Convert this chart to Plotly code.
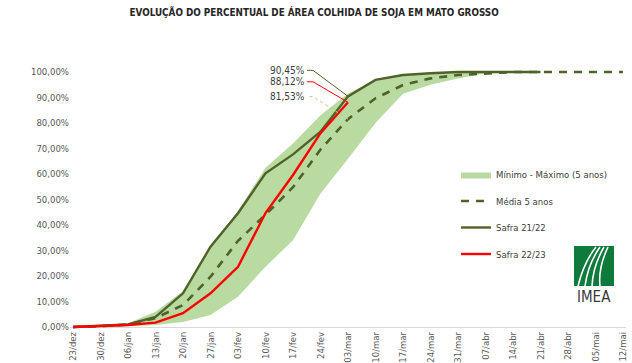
import plotly.graph_objects as go

categories = ["23/dez", "30/dez", "06/jan", "13/jan", "20/jan", "27/jan", "03/fev", "10/fev",
              "17/fev", "24/fev", "03/mar", "10/mar", "17/mar", "24/mar", "31/mar", "07/abr",
              "14/abr", "21/abr", "28/abr", "05/mai", "12/mai"]
y_ticks = [0, 10, 20, 30, 40, 50, 60, 70, 80, 90, 100]
y_tick_labels = ["0,00%", "10,00%", "20,00%", "30,00%", "40,00%", "50,00%", "60,00%",
                 "70,00%", "80,00%", "90,00%", "100,00%"]

band_max = [0, 0.5, 1.5, 6, 14, 32, 45.5, 62.5, 72, 83, 91.6, 97, 99, 99.8, 100, 100, 100, 100]
band_min = [0, 0, 0.3, 0.8, 2, 4.7, 11.9, 23.6, 34, 52.4, 66, 80, 91.5, 95, 97.5, 99.5, 100, 100]
media_5 = [0, 0.3, 1, 3.5, 8.6, 19.7, 33.8, 44, 54.8, 69.6, 81.53, 89.7, 94.9, 97.5, 98.8, 99.5,
           100, 100, 100, 100, 100]
safra_2122 = [0, 0.5, 1, 4, 13.2, 31.5, 44.6, 60.3, 67.7, 76.6, 90.45, 96.9, 98.8, 99.5, 100, 100,
              100, 100]
safra_2223 = [0, 0.3, 0.8, 1.7, 5.4, 13.2, 23.6, 44.7, 59.6, 76, 88.12]

W, H = 632, 363
L, R, T, B = 70, 6, 60, 34
PW, PH = W - L - R, H - T - B


def paper(px, py):
    return (px - L) / PW, (H - B - py) / PH


DARK = "#4f6228"
RED = "#ff0000"
BAND = "#b9dba1"
TXT = "#404040"
FONT = "DejaVu Sans Condensed, Liberation Sans, sans-serif"

x_all = list(range(len(categories)))

fig = go.Figure()
fig.add_trace(go.Scatter(x=x_all[:len(band_min)], y=band_min, mode="lines",
                         line=dict(width=0, color=BAND), showlegend=False,
                         legendgroup="a", hoverinfo="skip"))
fig.add_trace(go.Scatter(x=x_all[:len(band_max)], y=band_max, mode="lines",
                         line=dict(width=0, color=BAND), fill="tonexty", fillcolor=BAND,
                         name="Mínimo - Máximo (5 anos)", legendgroup="a"))
fig.add_trace(go.Scatter(x=x_all[:len(media_5)], y=media_5, mode="lines",
                         line=dict(color=DARK, width=2.6, dash="8px,7px"),
                         name="Média 5 anos", legendgroup="b"))
fig.add_trace(go.Scatter(x=x_all[:len(safra_2122)], y=safra_2122, mode="lines",
                         line=dict(color=DARK, width=2.4),
                         name="Safra 21/22", legendgroup="c"))
fig.add_trace(go.Scatter(x=x_all[:len(safra_2223)], y=safra_2223, mode="lines",
                         line=dict(color=RED, width=2.4),
                         name="Safra 22/23", legendgroup="d"))

# data labels with leader lines at last point of current season
last = len(safra_2223) - 1
labels = [
    (safra_2122[last], DARK, "solid", 26),
    (safra_2223[last], RED, "solid", 20.5),
    (media_5[last], "#a9d18e", "dot", 22.5),
]
annotations = []
shapes = []
for val, col, dash, up in labels:
    txt = f"{val:.2f}%".replace(".", ",")
    annotations.append(dict(x=last, y=val, xref="x", yref="y", text=txt, showarrow=False,
                            xanchor="right", yanchor="middle", xshift=-41, yshift=up,
                            font=dict(family=FONT, size=10, color=TXT)))
    shapes.append(dict(type="path", xref="x", yref="y", xsizemode="pixel", ysizemode="pixel",
                       xanchor=last, yanchor=val,
                       path=f"M 0,0 L -35,{up} L -41,{up}",
                       line=dict(color=col, width=1, dash=dash)))

# IMEA logo
x0, y0 = paper(574, 286)
x1, y1 = paper(614, 246)
shapes.append(dict(type="rect", xref="paper", yref="paper", x0=x0, y0=y0, x1=x1, y1=y1,
                   fillcolor="#0e7a3c", line=dict(width=0), layer="above"))
curves = [((596, 247), (584, 262), (578, 286)),
          ((600, 247), (588, 264), (585, 286)),
          ((604, 247), (593, 266), (592, 286)),
          ((608, 247), (598, 268), (600, 286))]
for (a, b, c) in curves:
    pa, pb, pc = paper(*a), paper(*b), paper(*c)
    shapes.append(dict(type="path", xref="paper", yref="paper", layer="above",
                       path=f"M {pa[0]},{pa[1]} Q {pb[0]},{pb[1]} {pc[0]},{pc[1]}",
                       line=dict(color="white", width=1.6)))
lx, ly = paper(594, 297)
annotations.append(dict(x=lx, y=ly, xref="paper", yref="paper", text="IMEA", showarrow=False,
                        xanchor="center", yanchor="middle",
                        font=dict(family="DejaVu Sans Condensed, sans-serif", size=15, color="#3a3a3a")))

fig.update_layout(
    width=W, height=H,
    margin=dict(l=L, r=R, t=T, b=B),
    paper_bgcolor="white", plot_bgcolor="white",
    title=dict(text="<b>EVOLUÇÃO DO PERCENTUAL DE ÁREA COLHIDA DE SOJA EM MATO GROSSO</b>",
               x=0.497, xanchor="center", y=1 - 13 / H, yanchor="middle",
               font=dict(family=FONT, size=9.8, color="#262626")),
    xaxis=dict(range=[-3 / 27.5, 20 + 3 / 27.5],
               tickmode="array", tickvals=x_all, ticktext=categories, tickangle=-90,
               showgrid=False, zeroline=False, showline=False, ticks="",
               tickfont=dict(family=FONT, size=9.5, color="#595959"), automargin=False),
    yaxis=dict(range=[-2 / 2.55, (H - B - T - 2) / 2.55], tickmode="array",
               tickvals=y_ticks, ticktext=y_tick_labels, showgrid=False,
               zeroline=True, zerolinecolor="#d9d9d9", zerolinewidth=1, showline=False,
               tickfont=dict(family=FONT, size=9.5, color="#595959"), automargin=False),
    legend=dict(x=paper(456, 0)[0], y=paper(0, 160)[1], xanchor="left", yanchor="top",
                traceorder="grouped", tracegroupgap=7.5, bgcolor="rgba(0,0,0,0)",
                font=dict(family=FONT, size=9.5, color=TXT)),
    annotations=annotations,
    shapes=shapes,
)

fig.write_html("out.html", config={"displayModeBar": False},
               post_script="document.body.style.margin='0';")
